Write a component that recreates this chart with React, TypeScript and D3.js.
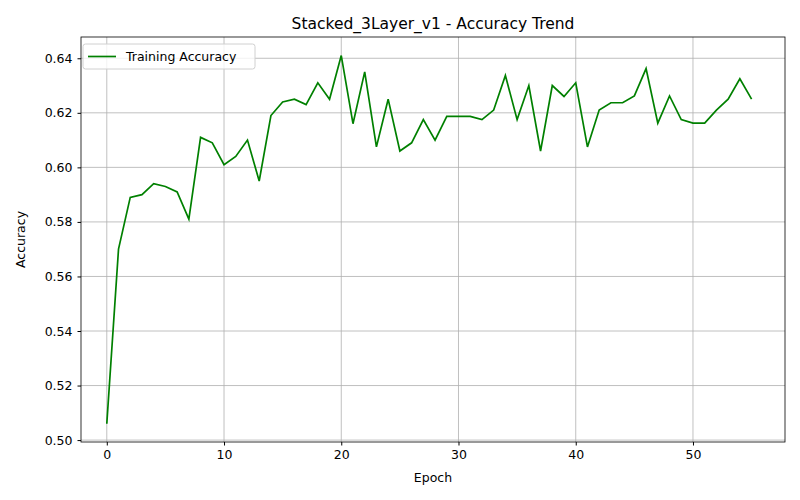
import React, { useEffect, useRef } from "react";
import * as d3 from "d3";

const epochs = d3.range(0, 56);
const accuracy = [
  0.506, 0.570, 0.589, 0.590, 0.594, 0.593, 0.591, 0.581, 0.611, 0.609,
  0.601, 0.604, 0.610, 0.595, 0.619, 0.624, 0.625, 0.623, 0.631, 0.625,
  0.641, 0.616, 0.635, 0.6075, 0.625, 0.606, 0.609, 0.6175, 0.610, 0.6187,
  0.6187, 0.6187, 0.6175, 0.621, 0.6337, 0.6175, 0.630, 0.606, 0.630, 0.626,
  0.631, 0.6075, 0.621, 0.6237, 0.6237, 0.6262, 0.6362, 0.6162, 0.6262, 0.6175,
  0.6162, 0.6162, 0.621, 0.625, 0.6325, 0.625,
];
const xTicks = [0, 10, 20, 30, 40, 50];
const yTicks = [0.5, 0.52, 0.54, 0.56, 0.58, 0.6, 0.62, 0.64];

const App: React.FC = () => {
  const ref = useRef<SVGSVGElement | null>(null);

  useEffect(() => {
    if (!ref.current) return;
    const svg = d3.select(ref.current);
    svg.selectAll("*").remove();
    const margin = { top: 37, right: 15, bottom: 58, left: 81 };
    const width = 800 - margin.left - margin.right;
    const height = 500 - margin.top - margin.bottom;
    const font = "DejaVu Sans";

    const x = d3.scaleLinear().domain([-2.2, 57.85]).range([0, width]);
    const y = d3.scaleLinear().domain([0.4993, 0.6478]).range([height, 0]);

    const g = svg.append("g").attr("transform", `translate(${margin.left},${margin.top})`);

    // grid
    g.selectAll(".gx").data(xTicks).enter().append("line")
      .attr("x1", (d) => x(d)).attr("x2", (d) => x(d))
      .attr("y1", 0).attr("y2", height)
      .attr("stroke", "#b0b0b0").attr("stroke-width", 0.8);
    g.selectAll(".gy").data(yTicks).enter().append("line")
      .attr("x1", 0).attr("x2", width)
      .attr("y1", (d) => y(d)).attr("y2", (d) => y(d))
      .attr("stroke", "#b0b0b0").attr("stroke-width", 0.8);

    const xAxis = g.append("g").attr("transform", `translate(0,${height})`)
      .call(d3.axisBottom(x).tickValues(xTicks).tickFormat(d3.format("d")).tickSize(3.5).tickPadding(5));
    const yAxis = g.append("g")
      .call(d3.axisLeft(y).tickValues(yTicks).tickFormat(d3.format(".2f")).tickSize(3.5).tickPadding(5));
    [xAxis, yAxis].forEach((a) => {
      a.select(".domain").remove();
      a.selectAll("text").style("font-family", font).style("font-size", "12.5px").attr("fill", "#000");
      a.selectAll("line").attr("stroke", "#000");
    });

    const line = d3.line<number>().x((_, i) => x(epochs[i])).y((d) => y(d));
    g.append("path").datum(accuracy)
      .attr("fill", "none").attr("stroke", "green").attr("stroke-width", 1.7)
      .attr("d", line);

    g.append("rect").attr("width", width).attr("height", height)
      .attr("fill", "none").attr("stroke", "#000").attr("stroke-width", 0.8);

    // legend
    const lg = g.append("g").attr("transform", "translate(2,7)");
    lg.append("rect").attr("width", 172).attr("height", 25).attr("rx", 2.5)
      .attr("fill", "#fff").attr("fill-opacity", 0.8).attr("stroke", "#d0d0d0");
    lg.append("line").attr("x1", 5).attr("x2", 33).attr("y1", 12.5).attr("y2", 12.5)
      .attr("stroke", "green").attr("stroke-width", 1.7);
    lg.append("text").attr("x", 43).attr("y", 17).text("Training Accuracy")
      .style("font-family", font).style("font-size", "12.5px");

    svg.append("text").attr("x", margin.left + width / 2).attr("y", margin.top - 8)
      .attr("text-anchor", "middle").style("font-family", font).style("font-size", "15.5px")
      .text("Stacked_3Layer_v1 - Accuracy Trend");
    svg.append("text").attr("x", margin.left + width / 2).attr("y", 482)
      .attr("text-anchor", "middle").style("font-family", font).style("font-size", "12.5px")
      .text("Epoch");
    svg.append("text").attr("transform", `translate(25,${margin.top + height / 2}) rotate(-90)`)
      .attr("text-anchor", "middle").style("font-family", font).style("font-size", "12.5px")
      .text("Accuracy");
  }, []);

  return <svg ref={ref} width={800} height={500} style={{ display: "block", margin: -8 }} />;
};

export default App;
